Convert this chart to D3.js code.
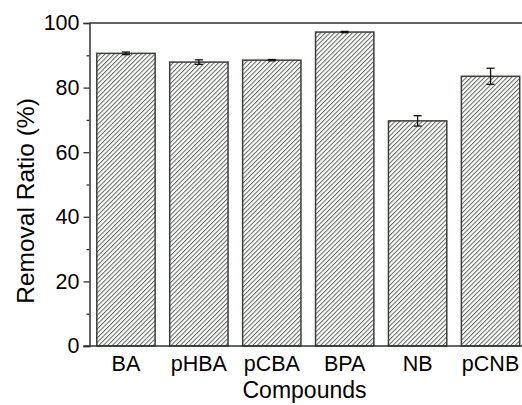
<!DOCTYPE html>
<html><head><meta charset="utf-8">
<script src="https://cdn.jsdelivr.net/npm/d3@7"></script>
<style>body{margin:0;background:#fff}svg{display:block}</style>
</head><body>
<svg id="c" width="522" height="405"></svg>
<script>
const categories = ["BA","pHBA","pCBA","BPA","NB","pCNB"];
const values = [90.6, 87.9, 88.5, 97.2, 69.7, 83.5];
const errors = [0.4, 0.7, 0.2, 0.2, 1.6, 2.5];
const yTicks = [0,20,40,60,80,100];
const yMinor = [10,30,50,70,90];

const FONT = "Liberation Sans, Arial, sans-serif";
const svg = d3.select("#c");
const L = 89.5, R = 527, T = 23, B = 346;
const x = d3.scaleBand().domain(categories).range([L, R]).paddingInner(0.2).paddingOuter(0.1);
const y = d3.scaleLinear().domain([0,100]).range([B, T]);

const defs = svg.append("defs");
const P = 3.2;
const pat = defs.append("pattern").attr("id","hatch").attr("patternUnits","userSpaceOnUse")
  .attr("width",P).attr("height",P).attr("patternTransform","rotate(45)");
pat.append("rect").attr("width",P).attr("height",P).attr("fill","#fff");
pat.append("line").attr("x1",0.5).attr("y1",0).attr("x2",0.5).attr("y2",P)
  .attr("stroke","#5f645f").attr("stroke-width",1);

const axisColor = "#2f332f";
svg.append("line").attr("x1",L).attr("x2",R).attr("y1",T).attr("y2",T).attr("stroke",axisColor).attr("stroke-width",1.5);
svg.append("line").attr("x1",R).attr("x2",R).attr("y1",T).attr("y2",B).attr("stroke",axisColor).attr("stroke-width",1.5);

svg.selectAll("rect.bar").data(categories).enter().append("rect").attr("class","bar")
  .attr("x", d=>x(d)).attr("width", x.bandwidth())
  .attr("y", (d,i)=>y(values[i])).attr("height",(d,i)=>B - y(values[i]))
  .attr("fill","url(#hatch)").attr("stroke","#3a3f3a").attr("stroke-width",1.5);

const eg = svg.append("g").attr("stroke","#111").attr("stroke-width",1.3);
categories.forEach((c,i)=>{
  const cx = x(c)+x.bandwidth()/2;
  const y1 = y(values[i]+errors[i]), y2 = y(values[i]-errors[i]);
  eg.append("line").attr("x1",cx).attr("x2",cx).attr("y1",y1).attr("y2",y2);
  eg.append("line").attr("x1",cx-4).attr("x2",cx+4).attr("y1",y1).attr("y2",y1);
  eg.append("line").attr("x1",cx-4).attr("x2",cx+4).attr("y1",y2).attr("y2",y2);
});

const ya = svg.append("g").attr("transform",`translate(${L},0)`)
  .call(d3.axisLeft(y).tickValues(yTicks).tickSize(6).tickPadding(4).tickFormat(d3.format("d")));
svg.append("g").attr("transform",`translate(${L},0)`)
  .call(d3.axisLeft(y).tickValues(yMinor).tickSize(3).tickFormat(""))
  .call(g=>g.select(".domain").remove())
  .selectAll("line").attr("stroke",axisColor).attr("stroke-width",1.3);
ya.select(".domain").attr("stroke",axisColor).attr("stroke-width",1.5);
ya.selectAll("line").attr("stroke",axisColor).attr("stroke-width",1.3);
ya.selectAll("text").attr("font-family",FONT).attr("font-size",21.5).attr("fill","#000");

const xa = svg.append("g").attr("transform",`translate(0,${B})`)
  .call(d3.axisBottom(x).tickSize(0).tickPadding(10));
xa.select(".domain").attr("stroke",axisColor).attr("stroke-width",1.5).attr("d",`M${L-6},0H${R}`);
xa.selectAll("text").attr("font-family",FONT).attr("font-size",21.5).attr("fill","#000").attr("dy","0.71em");

svg.append("text").attr("x",304.5).attr("y",398).attr("text-anchor","middle")
  .attr("font-family",FONT).attr("font-size",23).text("Compounds");
svg.append("text").attr("transform","translate(34,201) rotate(-90)").attr("text-anchor","middle")
  .attr("font-family",FONT).attr("font-size",24.5).text("Removal Ratio (%)");
</script>
</body></html>
